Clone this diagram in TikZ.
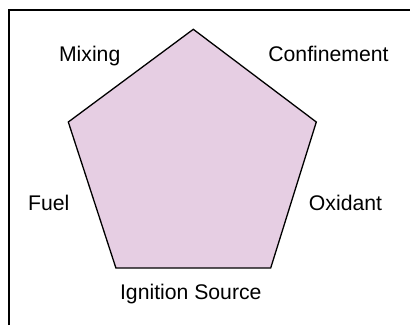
\documentclass[tikz,border=0pt]{standalone}
\usepackage{fontspec}
\setmainfont{Liberation Sans}
\definecolor{pentafill}{RGB}{230,206,227}
\begin{document}
\begin{tikzpicture}[x=1pt,y=-1pt,
  lbl/.style={anchor=base,inner sep=0pt,font=\fontsize{21.2}{25}\selectfont},
  edge/.style={draw=black,line width=1.3pt,line join=miter}]
\useasboundingbox (0,0) rectangle (410,325);
\fill[white] (0,0) rectangle (410,325);
% frame along the left and top
\draw[line width=1.2pt] (9,325) -- (9,10) -- (410,10);
% pentagon corners
\coordinate (top) at (193.3,29.3);
\coordinate (ur) at (316.3,122.0);
\coordinate (br) at (270.7,268.0);
\coordinate (bl) at (115.9,268.0);
\coordinate (ul) at (68.3,122.0);
\path[edge,fill=pentafill] (top) -- (ur) -- (br) -- (bl) -- (ul) -- cycle;
% labels
\node[lbl] (mix) at (89.7,61) {Mixing};
\node[lbl] (conf) at (328.5,61) {Confinement};
\node[lbl] (fuel) at (48.8,210.7) {Fuel};
\node[lbl] (ox) at (345.5,210.7) {Oxidant};
\node[lbl] (ign) at (190.8,299.3) {Ignition Source};
\end{tikzpicture}
\end{document}
